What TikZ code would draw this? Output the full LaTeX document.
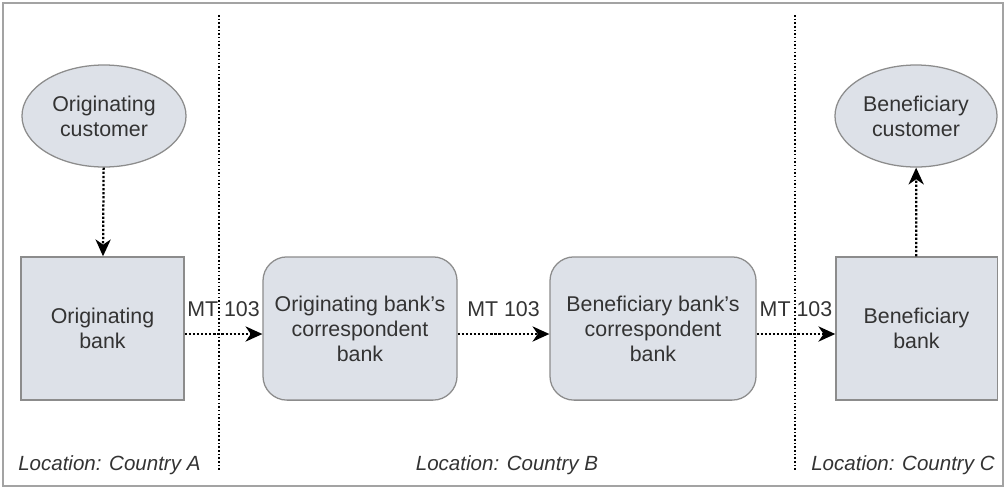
\documentclass[tikz,border=0pt]{standalone}
\usepackage{fontspec}
\setmainfont{Liberation Sans}
\usetikzlibrary{arrows.meta, shapes.geometric}

\definecolor{boxfill}{HTML}{DDE1E8}
\definecolor{boxline}{HTML}{8C8C8C}
\definecolor{txt}{HTML}{333333}

\begin{document}
\begin{tikzpicture}[x=0.025cm, y=-0.025cm,
    msg/.style={draw=black, line width=1.6pt, dash pattern=on 1.6pt off 1.3pt,
                -{Stealth[length=4.2mm, width=3.8mm, inset=1.3mm]}},
    border/.style={draw=black, line width=1.1pt, dash pattern=on 1.1pt off 1.5pt}]
        \useasboundingbox (0, 0) rectangle (1006, 489);
        \draw[boxline!80, line width=1.4pt] (3, 3) rectangle (1003, 486);

        \begin{scope}[every node/.style={draw=boxline, fill=boxfill, line width=0.9pt, text=txt,
                align=center, font=\fontsize{15.2}{17.8}\selectfont, inner sep=0pt}]
            \node[ellipse, minimum width=4.1cm, minimum height=2.55cm] (oc) at (104, 116) {Originating\\customer};
            \node[ellipse, minimum width=4.05cm, minimum height=2.55cm] (bc) at (916, 116) {Beneficiary\\customer};
            \node[rectangle, minimum width=4.08cm, minimum height=3.58cm] (ob) at (102.5, 328.5) {Originating\\bank};
            \node[rectangle, rounded corners=0.6cm, minimum width=4.85cm, minimum height=3.58cm] (oc2) at (360, 328.5) {Originating bank’s\\correspondent\\bank};
            \node[rectangle, rounded corners=0.6cm, minimum width=5.15cm, minimum height=3.58cm] (bc2) at (653, 328.5) {Beneficiary bank’s\\correspondent\\bank};
            \node[rectangle, minimum width=4.03cm, minimum height=3.58cm] (bb) at (916.5, 328.5) {Beneficiary\\bank};
        \end{scope}

        % country borders
        \draw[border] (219, 15) -- (219, 471);
        \draw[border] (795, 15) -- (795, 471);

        \begin{scope}[every node/.style={text=txt, font=\fontsize{15.2}{17.8}\selectfont, inner sep=0pt}]
            \draw[msg] (oc) -- (ob);
            \draw[msg] (ob.east |- 0, 334) -- (oc2.west |- 0, 334) node[midway, above=4mm] {MT 103};
            \draw[msg] (oc2.east |- 0, 334) -- (bc2.west |- 0, 334) node[midway, above=4mm] {MT 103};
            \draw[msg] (bc2.east |- 0, 334) -- (bb.west |- 0, 334) node[midway, above=4mm] {MT 103};
            \draw[msg] (bb) -- (bc);
        \end{scope}

        \begin{scope}[every node/.style={text=txt, font=\fontsize{14.6}{17}\itshape, inner sep=0pt}]
            \node[anchor=west] (la) at (18, 465) {Location: Country A};
            \node (lb) at (507, 465) {Location: Country B};
            \node[anchor=west] (lc) at (811, 465) {Location: Country C};
        \end{scope}
    \end{tikzpicture}
\end{document}
